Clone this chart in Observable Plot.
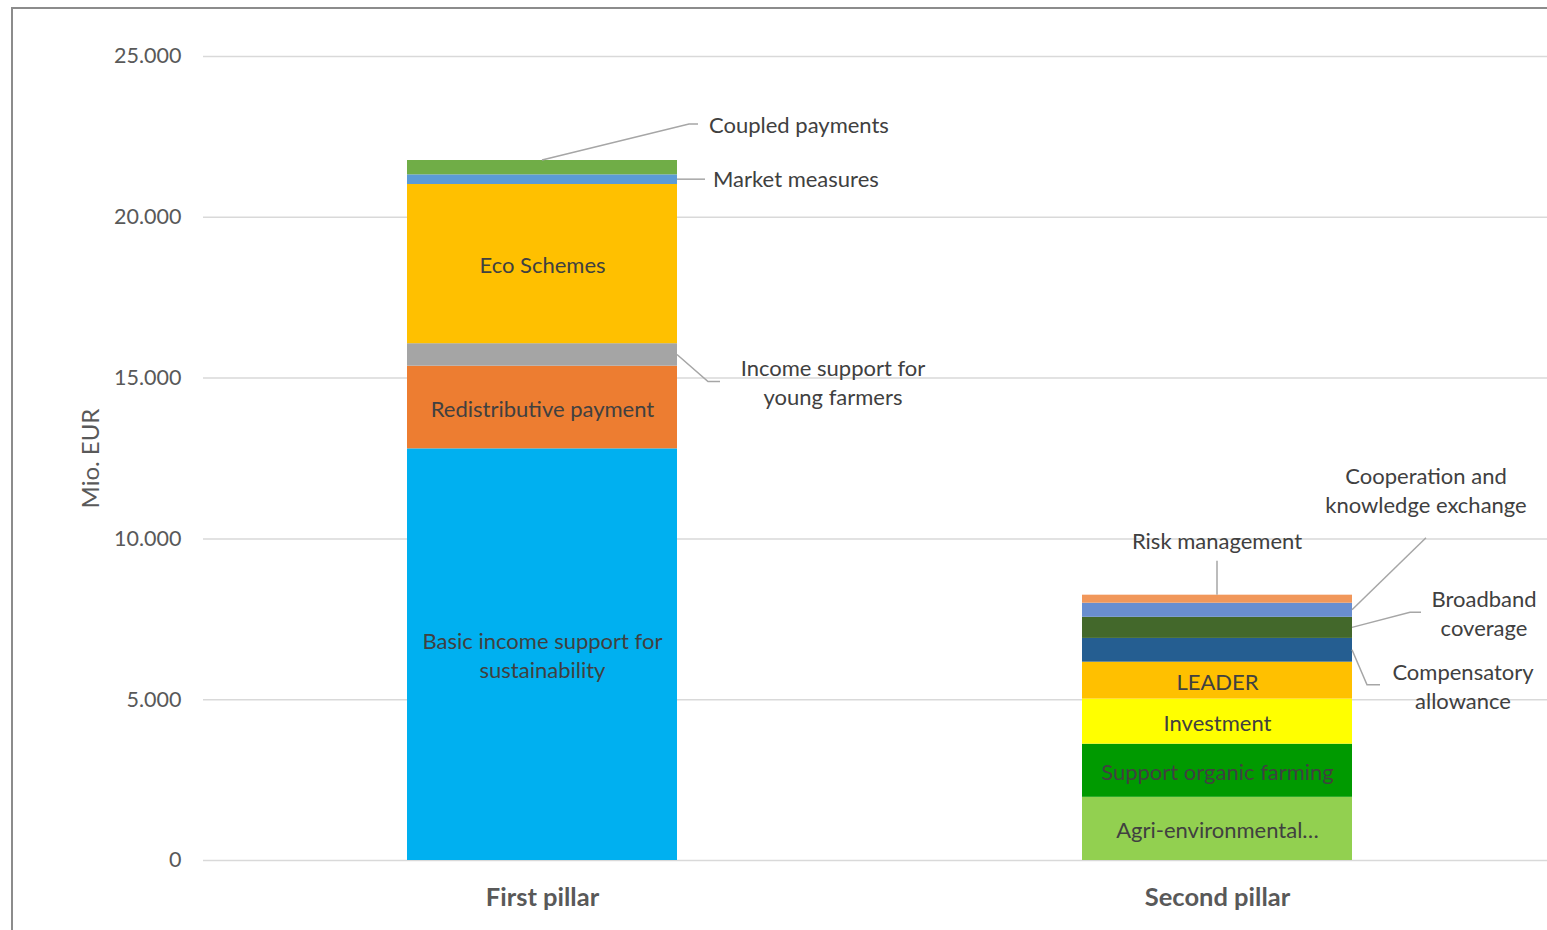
<!DOCTYPE html>
<html><head><meta charset="utf-8">
<script src="https://cdn.jsdelivr.net/npm/d3@7"></script>
<script src="https://cdn.jsdelivr.net/npm/@observablehq/plot@0.6"></script>
<style>
html,body{margin:0;padding:0;background:#fff;}
#wrap{position:relative;width:1547px;height:930px;overflow:hidden;}
#border{position:absolute;left:11px;top:7px;right:-10px;bottom:-10px;border:2px solid #8c8c8c;}
#chart{position:absolute;left:0;top:0;}
</style></head><body>
<div id="wrap"><div id="border"></div><div id="chart"></div></div>
<script>
// ---- data ----
const pillars = ["First pillar", "Second pillar"];
const firstMeasures = ["Basic income support for sustainability", "Redistributive payment", "Income support for young farmers", "Eco Schemes", "Market measures", "Coupled payments"];
const firstValues = [12800, 2570, 700, 4950, 300, 446];
const secondMeasures = ["Agri-environmental…", "Support organic farming", "Investment", "LEADER", "Compensatory allowance", "Broadband coverage", "Cooperation and knowledge exchange", "Risk management"];
const secondValues = [1965, 1652, 1403, 1147, 739, 656, 438, 250];
const yTicks = [0, 5000, 10000, 15000, 20000, 25000];
const yLabel = "Mio. EUR";

// ---- styles ----
const firstColors = ["#00B0F0", "#ED7D31", "#A5A5A5", "#FFC000", "#5B9BD5", "#70AD47"];
const secondColors = ["#92D050", "#009A00", "#FFFF00", "#FFC000", "#255E91", "#43682B", "#698ED0", "#F1975A"];
const insideLabels = {
  "Basic income support for sustainability": "Basic income support for\nsustainability",
  "Redistributive payment": "Redistributive payment",
  "Eco Schemes": "Eco Schemes",
  "Agri-environmental…": "Agri-environmental…",
  "Support organic farming": "Support organic farming",
  "Investment": "Investment",
  "LEADER": "LEADER"
};
// outside labels: anchor side, leader-line offsets (px) and text offset (px)
const outsideLabels = [
  {measure: "Coupled payments", side: "top", path: [[147, -36], [156, -36]], anchor: "start", t: [167, -35], lines: ["Coupled payments"]},
  {measure: "Market measures", side: "right", path: [[28, 0]], anchor: "start", t: [36, 0], lines: ["Market measures"]},
  {measure: "Income support for young farmers", side: "right", path: [[31, 27], [43, 27]], anchor: "middle", t: [156, 28], lines: ["Income support for", "young farmers"]},
  {measure: "Risk management", side: "top", path: [[0, -34]], anchor: "middle", t: [0, -53], lines: ["Risk management"]},
  {measure: "Cooperation and knowledge exchange", side: "right", path: [[74, -72]], anchor: "middle", t: [74, -118.5], lines: ["Cooperation and", "knowledge exchange"]},
  {measure: "Broadband coverage", side: "right", path: [[58, -15], [69, -15]], anchor: "middle", t: [132, -13.5], lines: ["Broadband", "coverage"]},
  {measure: "Compensatory allowance", side: "right", path: [[15, 35], [28, 35]], anchor: "middle", t: [111, 37.5], lines: ["Compensatory", "allowance"]}
];

const rows = [
  ...firstMeasures.map((m, i) => ({pillar: pillars[0], measure: m, value: firstValues[i]})),
  ...secondMeasures.map((m, i) => ({pillar: pillars[1], measure: m, value: secondValues[i]}))
];

const fmt = d3.formatLocale({decimal: ",", thousands: ".", grouping: [3], currency: ["", "€"]}).format(",");
const FONT = "Lato, 'Open Sans', sans-serif";
const FS = 22;
const TXT = "#595959";
const LBL = "#404040";

const plot = Plot.plot({
  width: 1547, height: 930,
  marginLeft: 203, marginRight: 0, marginTop: 56, marginBottom: 70,
  style: {fontFamily: FONT, background: "transparent", overflow: "visible"},
  x: {domain: pillars, range: [204, 1554], paddingInner: 0.6, paddingOuter: 0.3},
  y: {domain: [0, 25000]},
  color: {domain: [...firstMeasures, ...secondMeasures], range: [...firstColors, ...secondColors]},
  marks: [
    Plot.ruleY(yTicks, {stroke: "#D9D9D9", strokeWidth: 1.5}),
    Plot.barY(rows, {x: "pillar", y: "value", fill: "measure"}),
    Plot.text(rows, Plot.stackY({x: "pillar", y: "value", text: d => insideLabels[d.measure] ?? null, fill: LBL, fontSize: FS, lineHeight: 1.32})),
    Plot.axisY({ticks: yTicks, tickFormat: fmt, tickSize: 0, tickPadding: 22, fontSize: 21.5, fill: TXT, label: null}),
    Plot.axisX({tickSize: 0, tickPadding: 27, fontSize: 25.5, fontWeight: "bold", fill: TXT, label: null}),
    Plot.text([yLabel], {frameAnchor: "left", textAnchor: "middle", rotate: -90, dx: -112, fontSize: 24, fill: TXT})
  ]
});

// ---- leader lines and outside labels, positioned through the plot's scales ----
const xs = plot.scale("x"), ys = plot.scale("y");
const bw = xs.bandwidth;
const stacks = {};
for (const p of pillars) {
  let acc = 0;
  for (const r of rows.filter(r => r.pillar === p)) {
    stacks[r.measure] = {pillar: p, y1: acc, y2: acc + r.value};
    acc += r.value;
  }
}
const svg = d3.select(plot);
const g = svg.append("g");
for (const L of outsideLabels) {
  const s = stacks[L.measure];
  const x0 = xs.apply(s.pillar);
  const ax = L.side === "top" ? x0 + bw / 2 : x0 + bw;
  const ay = L.side === "top" ? ys.apply(s.y2) : ys.apply((s.y1 + s.y2) / 2);
  const pts = [[ax, ay], ...L.path.map(([dx, dy]) => [ax + dx, ay + dy])];
  g.append("path").attr("d", d3.line()(pts)).attr("fill", "none").attr("stroke", "#A6A6A6").attr("stroke-width", 1.5);
  const n = L.lines.length;
  L.lines.forEach((line, i) => {
    g.append("text")
      .attr("x", ax + L.t[0])
      .attr("y", ay + L.t[1] + (i - (n - 1) / 2) * 29)
      .attr("dy", "0.35em")
      .attr("text-anchor", L.anchor)
      .attr("font-family", FONT)
      .attr("font-size", FS)
      .attr("fill", LBL)
      .text(line);
  });
}

document.getElementById("chart").appendChild(plot);
</script>
</body></html>
